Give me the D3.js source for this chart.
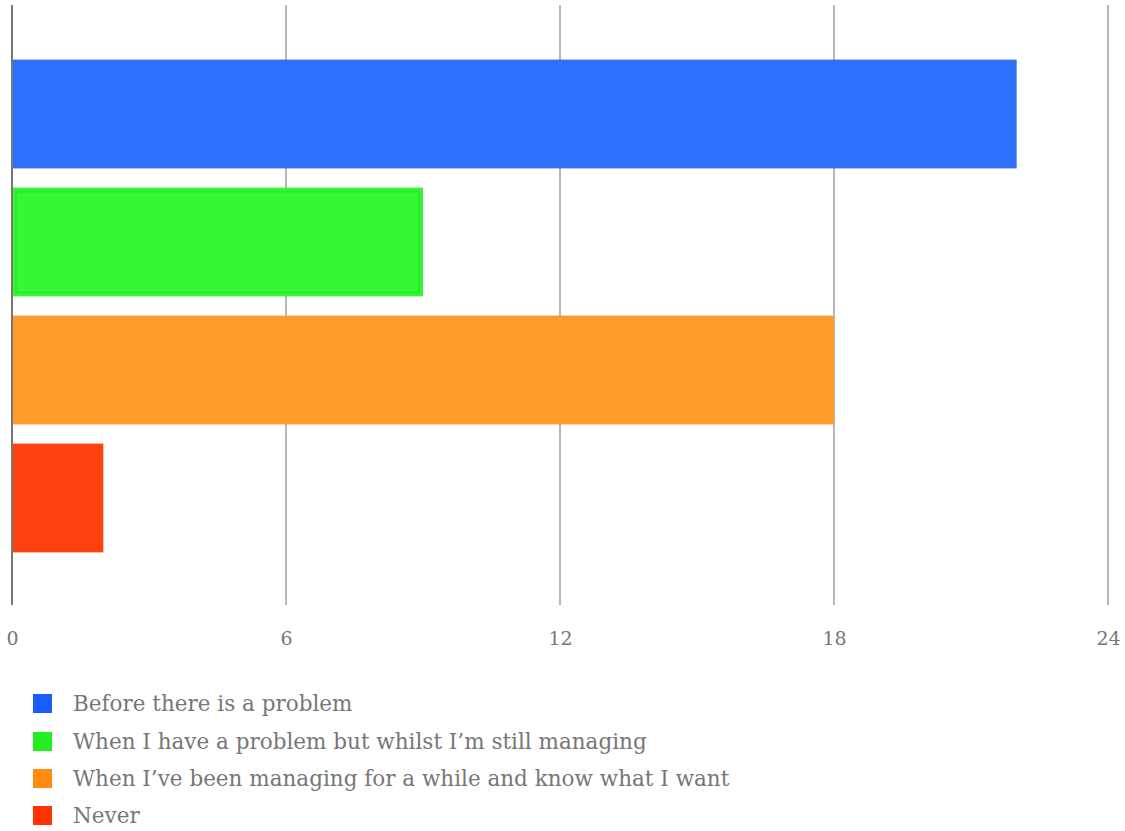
<!DOCTYPE html>
<html><head><meta charset="utf-8">
<script src="https://cdn.jsdelivr.net/npm/d3@7"></script>
<style>body{margin:0;background:#fff}svg{display:block}</style>
</head><body>
<script>
const categories = ["Before there is a problem","When I have a problem but whilst I\u2019m still managing","When I\u2019ve been managing for a while and know what I want","Never"];
const values = [22, 9, 18, 2];
const colors = ["#2f6ffe","#36f736","#ff9b2b","#ff4110"];
const legendColors = ["#1a5cff","#22ee22","#ff8c10","#ff3300"];
const ticks = [0, 6, 12, 18, 24];

const W = 1125, H = 831;
const font = "'DejaVu Serif',serif";
const svg = d3.select("body").append("svg").attr("width", W).attr("height", H);

const x = d3.scaleLinear().domain([0, 24]).range([12, 1108]);
const y = d3.scaleBand().domain(categories).range([50, 562]).paddingInner(0.15).paddingOuter(0.075);

// gridlines
svg.append("g").selectAll("line").data(ticks.slice(1)).join("line")
  .attr("x1", d => x(d)).attr("x2", d => x(d)).attr("y1", 5).attr("y2", 605)
  .attr("stroke", "#b8b8b8").attr("stroke-width", 2);

// bars
svg.append("g").selectAll("rect").data(categories).join("rect")
  .attr("x", x(0)).attr("y", d => y(d))
  .attr("width", (d, i) => x(values[i]) - x(0)).attr("height", y.bandwidth())
  .attr("fill", (d, i) => colors[i]);

// green bar inner outline
svg.append("rect")
  .attr("x", x(0) + 4).attr("y", y(categories[1]) + 4)
  .attr("width", x(values[1]) - x(0) - 8).attr("height", y.bandwidth() - 8)
  .attr("fill", "none").attr("stroke", "#28ec28").attr("stroke-width", 2);

// zero line
svg.append("line").attr("x1", x(0)).attr("x2", x(0)).attr("y1", 5).attr("y2", 605)
  .attr("stroke", "#777").attr("stroke-width", 2);

// axis
const axis = d3.axisBottom(x).tickValues(ticks).tickSize(0).tickPadding(0);
const ag = svg.append("g").attr("transform", "translate(0,630)").call(axis);
ag.select(".domain").remove();
ag.selectAll("text").attr("font-family", font).attr("font-size", 19).attr("fill", "#777").attr("dy", "0.8em");

// legend
const lg = svg.append("g");
const ly = [703, 741, 778, 815];
categories.forEach((c, i) => {
  lg.append("rect").attr("x", 33).attr("y", ly[i] - 9).attr("width", 19).attr("height", 19).attr("fill", legendColors[i]);
  lg.append("text").attr("x", 73).attr("y", ly[i]).attr("dy", "0.35em")
    .attr("font-family", font).attr("font-size", 21.5).attr("fill", "#777").text(c);
});
</script>
</body></html>
